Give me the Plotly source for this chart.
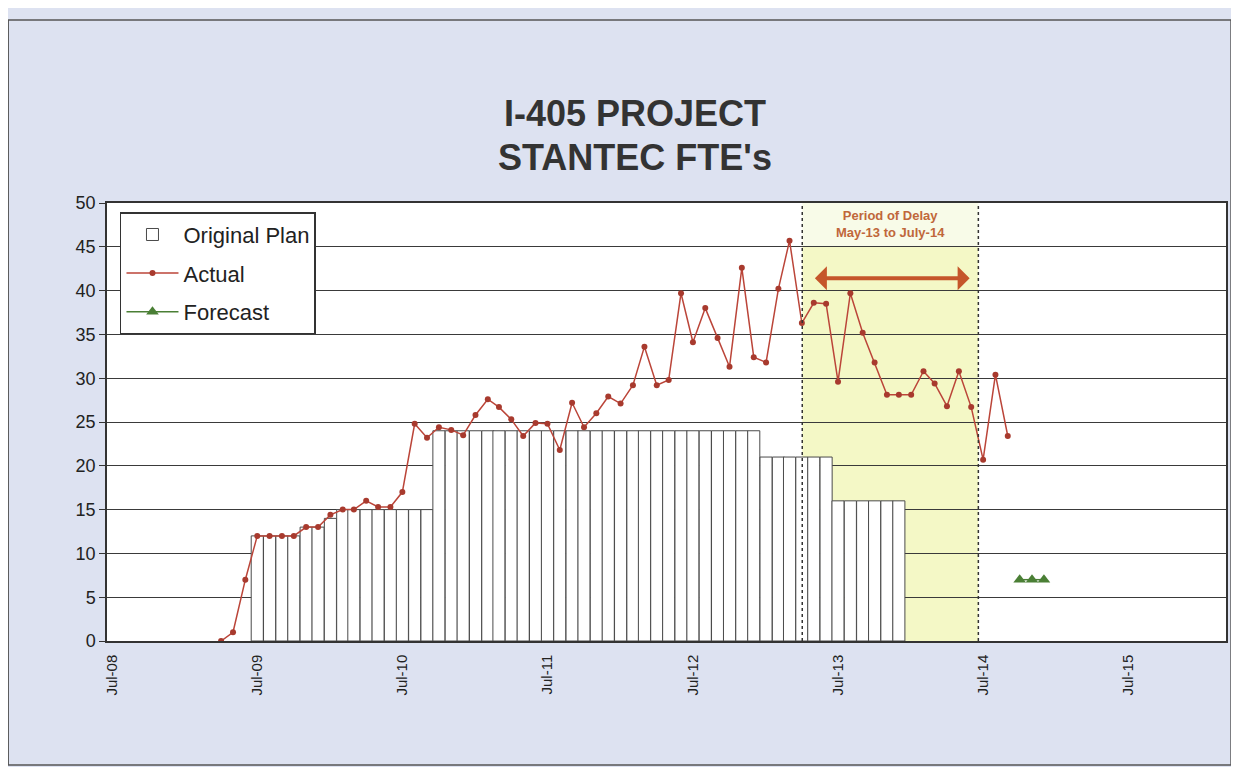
import pandas as pd
import plotly.graph_objects as go

# ---------------- data ----------------
actual_start = "2009-04-01"
actual_values = [0, 1, 7, 12, 12, 12, 12, 13, 13,
                 14.4, 15, 15, 16, 15.3, 15.3, 17, 24.8, 23.2, 24.4, 24.1, 23.5,
                 25.8, 27.6, 26.7, 25.3, 23.4, 24.9, 24.8, 21.8, 27.2, 24.4, 26.0, 27.9,
                 27.1, 29.2, 33.6, 29.2, 29.8, 39.7, 34.1, 38.0, 34.6, 31.3, 42.6, 32.4,
                 31.8, 40.2, 45.7, 36.3, 38.6, 38.5, 29.6, 39.7, 35.2, 31.8, 28.1, 28.1,
                 28.1, 30.8, 29.4, 26.8, 30.8, 26.7, 20.7, 30.4, 23.4]

plan_start = "2009-07-01"
plan_values = ([12, 12, 12, 12, 13, 13, 14] + [15] * 8 + [24] * 27 + [21] * 6 + [16] * 6)

forecast_start = "2014-10-01"
forecast_values = [7, 7, 7]

tick_dates = ["2008-07-01", "2009-07-01", "2010-07-01", "2011-07-01",
              "2012-07-01", "2013-07-01", "2014-07-01", "2015-07-01"]
tick_labels = ["Jul-08", "Jul-09", "Jul-10", "Jul-11", "Jul-12", "Jul-13", "Jul-14", "Jul-15"]

delay_start = "2013-04-02"
delay_end = "2014-06-19"
delay_text = "Period of Delay<br>May-13 to July-14"

actual_x = pd.date_range(actual_start, periods=len(actual_values), freq="MS")
plan_x = pd.date_range(plan_start, periods=len(plan_values), freq="MS")
forecast_x = pd.date_range(forecast_start, periods=len(forecast_values), freq="MS")

DAY_MS = 86400000
fig = go.Figure()

fig.add_trace(go.Bar(
    x=plan_x, y=plan_values, name="Original Plan", legendgroup="plan",
    width=[30.44 * DAY_MS] * len(plan_values),
    marker=dict(color="white", line=dict(color="#4a4a4a", width=1)),
))
fig.add_trace(go.Scatter(
    x=actual_x, y=actual_values, name="Actual", mode="lines+markers", legendgroup="actual",
    line=dict(color="#bb4539", width=1.5),
    marker=dict(color="#a83a2e", size=6, symbol="circle"),
))
fig.add_trace(go.Scatter(
    x=forecast_x, y=forecast_values, name="Forecast", mode="lines+markers", legendgroup="fc",
    line=dict(color="#4a7f35", width=1.5),
    marker=dict(color="#4a7f35", size=11, symbol="triangle-up"),
))

# delay period shading and dashed borders
fig.add_shape(type="rect", xref="x", yref="y", x0=delay_start, x1=delay_end, y0=0, y1=45,
              fillcolor="#f4f8c6", line=dict(width=0), layer="below")
fig.add_shape(type="rect", xref="x", yref="y", x0=delay_start, x1=delay_end, y0=45, y1=50,
              fillcolor="#f8fbe8", line=dict(width=0), layer="below")
for d in (delay_start, delay_end):
    fig.add_shape(type="line", xref="x", yref="y", x0=d, x1=d, y0=0, y1=50,
                  line=dict(color="#333333", width=1.5, dash="dot"), layer="above")

fig.add_annotation(x="2013-11-10", y=47.6, xref="x", yref="y", text=delay_text,
                   showarrow=False, font=dict(family="Liberation Sans", size=13, color="#c0673a", weight="bold"),
                   align="center")
fig.add_annotation(x="2014-05-28", y=41.4, ax="2013-04-30", ay=41.4, xref="x", yref="y",
                   axref="x", ayref="y", text="", showarrow=True, arrowside="end+start",
                   arrowhead=1, arrowsize=1.0, arrowwidth=4, arrowcolor="#c5562a")

# titles
fig.add_annotation(x=0.472, y=1.205, xref="paper", yref="paper", yanchor="middle",
                   text="<b>I-405 PROJECT</b>", showarrow=False,
                   font=dict(family="Arial", size=36, color="#333333"))
fig.add_annotation(x=0.472, y=1.105, xref="paper", yref="paper", yanchor="middle",
                   text="<b>STANTEC FTE's</b>", showarrow=False,
                   font=dict(family="Arial", size=36, color="#333333"))

# outer frame
fig.add_shape(type="rect", xref="paper", yref="paper", x0=-0.0883, x1=1.0045, y0=-0.283, y1=1.418,
              line=dict(color="#555555", width=1.5), fillcolor="rgba(0,0,0,0)", layer="below")

fig.update_layout(
    width=1231, height=759,
    margin=dict(l=99, r=11, t=195, b=126),
    paper_bgcolor="#dde2f1",
    plot_bgcolor="white",
    font=dict(family="Arial", color="#222222"),
    barmode="overlay",
    showlegend=True,
    legend=dict(x=0.0116, y=0.979, xanchor="left", yanchor="top",
                bgcolor="white", bordercolor="#333333", borderwidth=1.5,
                font=dict(family="Arial", size=22, color="#222222"),
                tracegroupgap=7, itemwidth=52),
)
fig.update_xaxes(
    type="date", range=["2008-06-18", "2016-03-03"],
    tickmode="array", tickvals=tick_dates, ticktext=tick_labels, tickangle=-90,
    tickfont=dict(family="Arial", size=15, color="#222222"),
    showgrid=False, showline=True, linecolor="#333333", linewidth=1.5, mirror=True,
    ticks="", ticklabelstandoff=6,
)
fig.update_yaxes(
    range=[0, 50], dtick=5, tick0=0,
    tickfont=dict(family="Arial", size=18, color="#222222"),
    showgrid=True, gridcolor="#3a3a3a", gridwidth=1.3,
    showline=True, linecolor="#333333", linewidth=1.5, mirror=True,
    zeroline=False, ticks="outside", ticklen=6, tickcolor="#333333",
)

fig.write_html("out.html")
